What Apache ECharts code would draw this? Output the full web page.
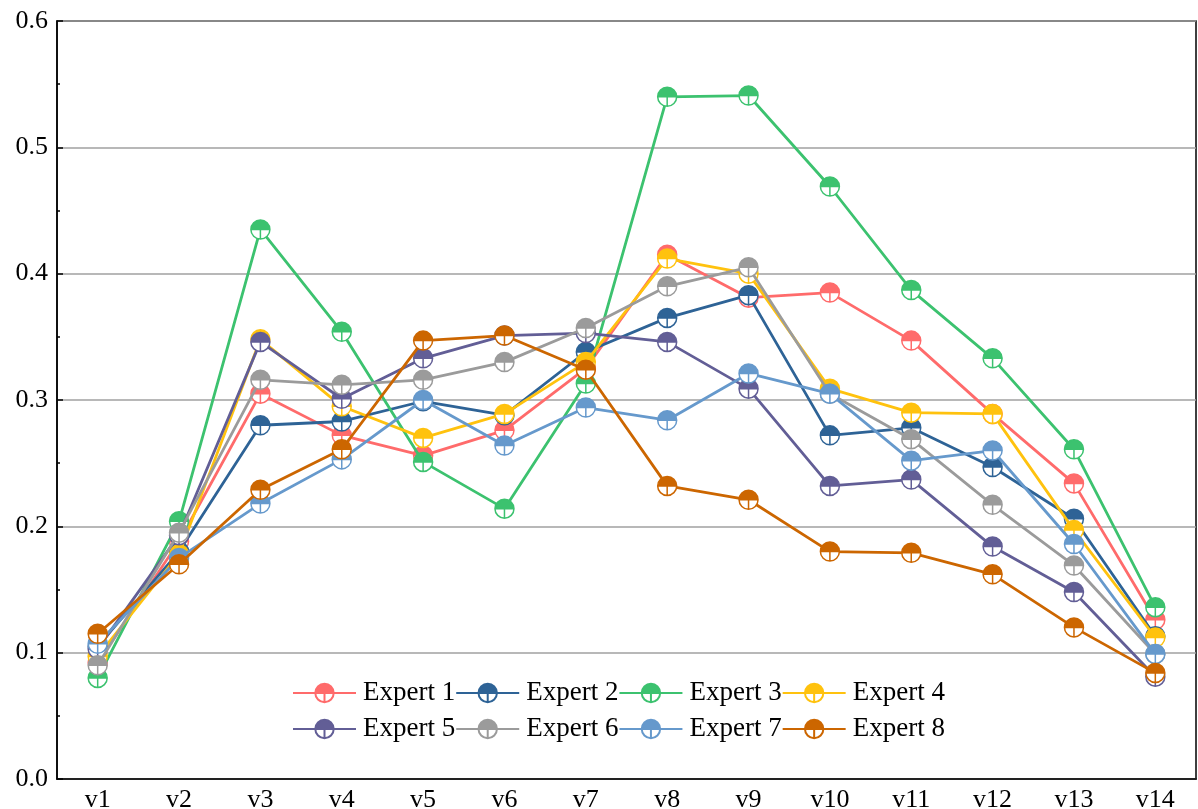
<!DOCTYPE html>
<html><head><meta charset="utf-8">
<script src="https://cdn.jsdelivr.net/npm/echarts@6/dist/echarts.min.js"></script>
<style>html,body{margin:0;padding:0;background:#fff}#c{width:1198px;height:809px}</style>
</head><body><div id="c"></div>
<script>
const categories = ['v1','v2','v3','v4','v5','v6','v7','v8','v9','v10','v11','v12','v13','v14'];
const seriesNames = ['Expert 1','Expert 2','Expert 3','Expert 4','Expert 5','Expert 6','Expert 7','Expert 8'];
const expert1 = [0.092,0.188,0.305,0.272,0.256,0.276,0.325,0.415,0.381,0.385,0.347,0.289,0.234,0.126];
const expert2 = [0.105,0.180,0.280,0.283,0.299,0.288,0.338,0.365,0.383,0.272,0.278,0.247,0.206,0.113];
const expert3 = [0.080,0.204,0.435,0.354,0.251,0.214,0.313,0.540,0.541,0.469,0.387,0.333,0.261,0.136];
const expert4 = [0.097,0.178,0.348,0.295,0.270,0.289,0.330,0.412,0.400,0.309,0.290,0.289,0.197,0.112];
const expert5 = [0.103,0.193,0.346,0.301,0.333,0.351,0.353,0.346,0.309,0.232,0.237,0.184,0.148,0.081];
const expert6 = [0.090,0.195,0.316,0.312,0.316,0.330,0.357,0.390,0.405,0.305,0.269,0.217,0.169,0.099];
const expert7 = [0.107,0.175,0.218,0.253,0.300,0.264,0.294,0.284,0.321,0.305,0.252,0.260,0.186,0.099];
const expert8 = [0.115,0.170,0.229,0.261,0.347,0.351,0.324,0.232,0.221,0.180,0.179,0.162,0.120,0.084];
const colors = ['#FF6B6B','#2E6396','#3CC26F','#FFC20E','#625E96','#9B9B9B','#6699CC','#CC6600'];
const allData = [expert1,expert2,expert3,expert4,expert5,expert6,expert7,expert8];

const markerPath = 'path://M0,10 A10,10 0 1,1 20,10 A10,10 0 1,1 0,10 Z M0,10 L20,10 M10,10 L10,20';
const font = 'Liberation Serif, Times New Roman, serif';

const series = allData.map((d,i)=>({
  name: seriesNames[i], type:'line', data:d, symbol: markerPath, symbolSize: 19,
  lineStyle:{color:colors[i], width:2.8},
  itemStyle:{
    color:{type:'linear',x:0,y:0,x2:0,y2:1,colorStops:[
      {offset:0,color:colors[i]},{offset:0.5,color:colors[i]},
      {offset:0.5,color:'#fff'},{offset:1,color:'#fff'}]},
    borderColor:colors[i], borderWidth:1.5, opacity:1
  },
  emphasis:{disabled:true}, animation:false, z: 2+i
}));

const chart = echarts.init(document.getElementById('c'));
chart.setOption({
  animation:false,
  color: colors,
  grid:{left:57,right:2,top:21,bottom:30,outerBoundsMode:'none',containLabel:false,show:true,borderColor:'#000',borderWidth:1.5,backgroundColor:'transparent'},
  legend:{
    data: seriesNames, left:287, top:670, width:720,
    itemWidth:63, itemHeight:23, itemGap:0,
    textStyle:{fontFamily:font, fontSize:27, color:'#000', lineHeight:36, padding:[0,0,0,2]}
  },
  xAxis:[{
    type:'category', data:categories, boundaryGap:true,
    axisLine:{lineStyle:{color:'#000',width:1.5}},
    axisTick:{inside:true, alignWithLabel:true, length:6, lineStyle:{color:'#000',width:1.5}},
    axisLabel:{fontFamily:font, fontSize:26, color:'#000', margin:8},
    splitLine:{show:false}
  },{
    type:'category', data:categories, boundaryGap:true, position:'bottom',
    axisLine:{show:false}, axisLabel:{show:false},
    axisTick:{inside:true, length:3, lineStyle:{color:'#000',width:1.5}},
    splitLine:{show:false}
  }],
  yAxis:{
    type:'value', min:0, max:0.6, interval:0.1,
    axisLine:{show:true, lineStyle:{color:'#000',width:1.5}},
    axisTick:{show:true, inside:true, length:6, lineStyle:{color:'#000',width:1.5}},
    minorTick:{show:true, splitNumber:2, length:3, lineStyle:{color:'#000',width:1.5}},
    axisLabel:{fontFamily:font, fontSize:26, color:'#000', margin:9, formatter:v=>v.toFixed(1)},
    splitLine:{show:true, lineStyle:{color:'#A0A0A0', width:1.5}}
  },
  series: series
});
</script></body></html>
